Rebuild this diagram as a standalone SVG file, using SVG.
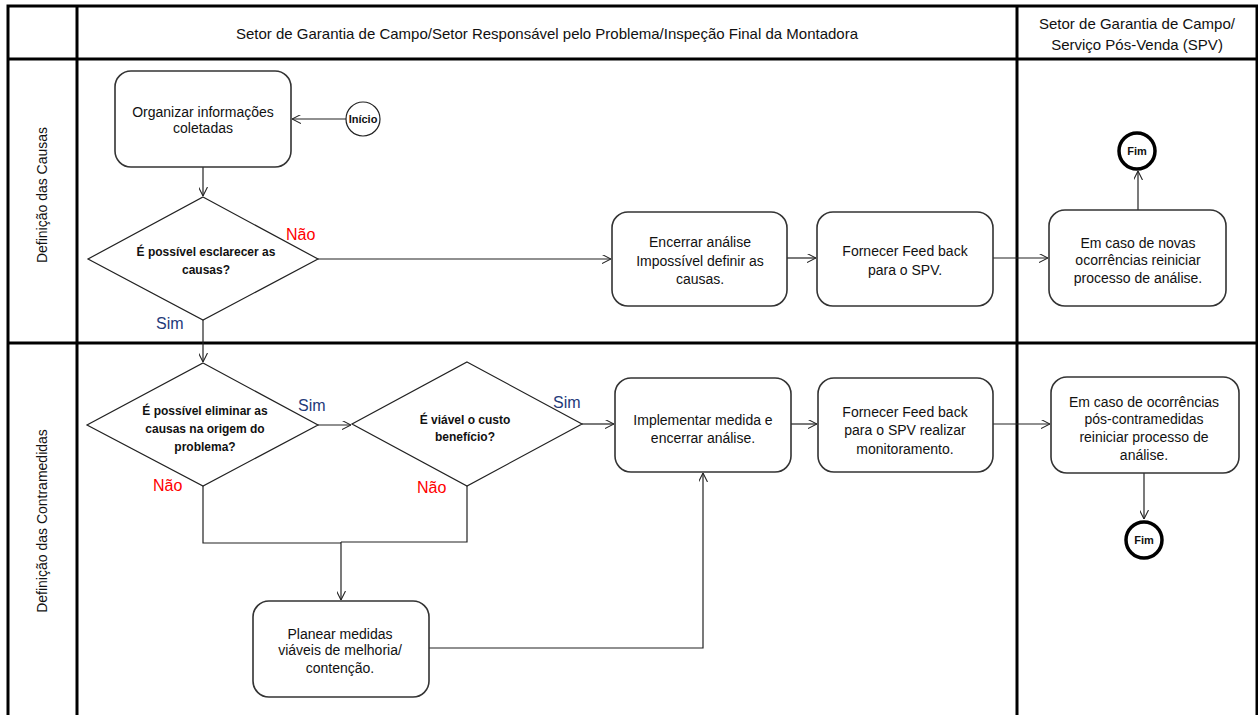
<svg xmlns="http://www.w3.org/2000/svg" width="1258" height="715" viewBox="0 0 1258 715">
<style>
.frame{fill:none;stroke:#000;stroke-width:3}
.box{fill:#fff;stroke:#333;stroke-width:1.6}
.dia{fill:#fff;stroke:#222;stroke-width:1.2}
.con{fill:none;stroke:#222;stroke-width:1.2}
.t{font-family:"Liberation Sans",Arial,sans-serif;font-size:14px;fill:#111;text-anchor:middle;dominant-baseline:central}
.h{font-family:"Liberation Sans",Arial,sans-serif;font-size:15px;fill:#111;text-anchor:middle;dominant-baseline:central}
.b{font-family:"Liberation Sans",Arial,sans-serif;font-size:12px;font-weight:bold;fill:#111;text-anchor:middle;dominant-baseline:central}
.s{font-family:"Liberation Sans",Arial,sans-serif;font-size:11px;font-weight:bold;fill:#111;text-anchor:middle;dominant-baseline:central}
.no{font-family:"Liberation Sans",Arial,sans-serif;font-size:16px;fill:#ff0000;dominant-baseline:central}
.yes{font-family:"Liberation Sans",Arial,sans-serif;font-size:16px;fill:#1f3a7a;dominant-baseline:central}
</style>
<defs>
<marker id="arr" viewBox="0 0 10 10" refX="10" refY="5" markerWidth="9" markerHeight="9" orient="auto" markerUnits="userSpaceOnUse">
<path d="M0,0 L10,5 L0,10" fill="none" stroke="#222" stroke-width="1.2"/>
</marker>
</defs>
<rect width="1258" height="715" fill="#fff"/>
<g id="lanes">
<rect class="frame" x="8" y="6" width="1249" height="715"/>
<line class="frame" x1="8" y1="59" x2="1257" y2="59"/>
<line class="frame" x1="8" y1="343" x2="1257" y2="343"/>
<line class="frame" x1="77" y1="6" x2="77" y2="715"/>
<line class="frame" x1="1017" y1="6" x2="1017" y2="715"/>
<text class="h" x="547" y="33">Setor de Garantia de Campo/Setor Responsável pelo Problema/Inspeção Final da Montadora</text>
<text class="h" x="1137" y="23">Setor de Garantia de Campo/</text>
<text class="h" x="1137" y="44">Serviço Pós-Venda (SPV)</text>
<text class="t" x="42" y="195" transform="rotate(-90 42 195)">Definição das Causas</text>
<text class="t" x="42" y="521" transform="rotate(-90 42 521)">Definição das Contramedidas</text>
</g>
<g id="connectors">
<line class="con" x1="346" y1="119" x2="292" y2="119" marker-end="url(#arr)"/>
<line class="con" x1="203" y1="167" x2="203" y2="196" marker-end="url(#arr)"/>
<line class="con" x1="318" y1="259" x2="611" y2="259" marker-end="url(#arr)"/>
<line class="con" x1="787" y1="258" x2="816" y2="258" marker-end="url(#arr)"/>
<line class="con" x1="993" y1="258" x2="1048" y2="258" marker-end="url(#arr)"/>
<line class="con" x1="1138" y1="210" x2="1138" y2="171" marker-end="url(#arr)"/>
<line class="con" x1="203" y1="320" x2="203" y2="362" marker-end="url(#arr)"/>
<line class="con" x1="318" y1="425" x2="351" y2="425" marker-end="url(#arr)"/>
<line class="con" x1="582" y1="424" x2="614" y2="424" marker-end="url(#arr)"/>
<line class="con" x1="791" y1="424" x2="817" y2="424" marker-end="url(#arr)"/>
<line class="con" x1="993" y1="424" x2="1050" y2="424" marker-end="url(#arr)"/>
<line class="con" x1="1144" y1="473" x2="1144" y2="519" marker-end="url(#arr)"/>
<polyline class="con" points="203,486 203,543 341,543"/>
<polyline class="con" points="467,486 467,542 341,542"/>
<line class="con" x1="341" y1="542" x2="341" y2="600" stroke-width="1.8" marker-end="url(#arr)"/>
<polyline class="con" points="429,648 703,648 703,473" marker-end="url(#arr)"/>
<text class="no" x="286" y="234">Não</text>
<text class="yes" x="156" y="323">Sim</text>
<text class="yes" x="298" y="405">Sim</text>
<text class="no" x="153" y="485">Não</text>
<text class="yes" x="553" y="402">Sim</text>
<text class="no" x="417" y="487">Não</text>
</g>
<g id="inicio">
<circle cx="363" cy="119" r="17" fill="#fff" stroke="#222" stroke-width="1.2"/>
<text class="s" x="363" y="119">Início</text>
</g>
<g id="organizar">
<rect class="box" x="115" y="71" width="176" height="96" rx="16"/>
<text class="t" x="203" y="112">Organizar informações</text>
<text class="t" x="203" y="128">coletadas</text>
</g>
<g id="decisao1">
<polygon class="dia" points="203,197 318,259 203,320 88,259"/>
<text class="b" x="206" y="252">É possível esclarecer as</text>
<text class="b" x="206" y="270">causas?</text>
</g>
<g id="encerrar">
<rect class="box" x="612" y="212" width="175" height="94" rx="16"/>
<text class="t" x="700" y="242">Encerrar análise</text>
<text class="t" x="700" y="261">Impossível  definir as</text>
<text class="t" x="700" y="279">causas.</text>
</g>
<g id="feedback1">
<rect class="box" x="817" y="212" width="176" height="94" rx="16"/>
<text class="t" x="905" y="251">Fornecer Feed back</text>
<text class="t" x="905" y="270">para o SPV.</text>
</g>
<g id="reiniciar1">
<rect class="box" x="1049" y="210" width="177" height="96" rx="16"/>
<text class="t" x="1138" y="243">Em caso de novas</text>
<text class="t" x="1138" y="260">ocorrências reiniciar</text>
<text class="t" x="1138" y="278">processo de análise.</text>
</g>
<g id="fim1">
<circle cx="1137" cy="151" r="18" fill="#fff" stroke="#000" stroke-width="3.5"/>
<text class="s" x="1137" y="151">Fim</text>
</g>
<g id="decisao2">
<polygon class="dia" points="203,363 318,425 203,486 87,425"/>
<text class="b" x="205" y="411">É possível eliminar as</text>
<text class="b" x="205" y="429">causas  na origem do</text>
<text class="b" x="205" y="447">problema?</text>
</g>
<g id="decisao3">
<polygon class="dia" points="467,362 582,424 467,486 352,424"/>
<text class="b" x="465" y="420">É viável o custo</text>
<text class="b" x="465" y="437">benefício?</text>
</g>
<g id="implementar">
<rect class="box" x="615" y="378" width="176" height="94" rx="16"/>
<text class="t" x="703" y="420">Implementar  medida e</text>
<text class="t" x="703" y="438">encerrar análise.</text>
</g>
<g id="feedback2">
<rect class="box" x="818" y="378" width="175" height="94" rx="16"/>
<text class="t" x="905" y="412">Fornecer Feed back</text>
<text class="t" x="905" y="430">para o SPV realizar</text>
<text class="t" x="905" y="449">monitoramento.</text>
</g>
<g id="reiniciar2">
<rect class="box" x="1051" y="377" width="188" height="96" rx="16"/>
<text class="t" x="1144" y="402">Em caso de ocorrências</text>
<text class="t" x="1144" y="419">pós-contramedidas</text>
<text class="t" x="1144" y="437">reiniciar processo de</text>
<text class="t" x="1144" y="455">análise.</text>
</g>
<g id="fim2">
<circle cx="1144" cy="540" r="18" fill="#fff" stroke="#000" stroke-width="3.5"/>
<text class="s" x="1144" y="540">Fim</text>
</g>
<g id="planear">
<rect class="box" x="253" y="601" width="176" height="96" rx="16"/>
<text class="t" x="340" y="634">Planear  medidas</text>
<text class="t" x="340" y="650">viáveis  de melhoria/</text>
<text class="t" x="340" y="668">contenção.</text>
</g>
</svg>
